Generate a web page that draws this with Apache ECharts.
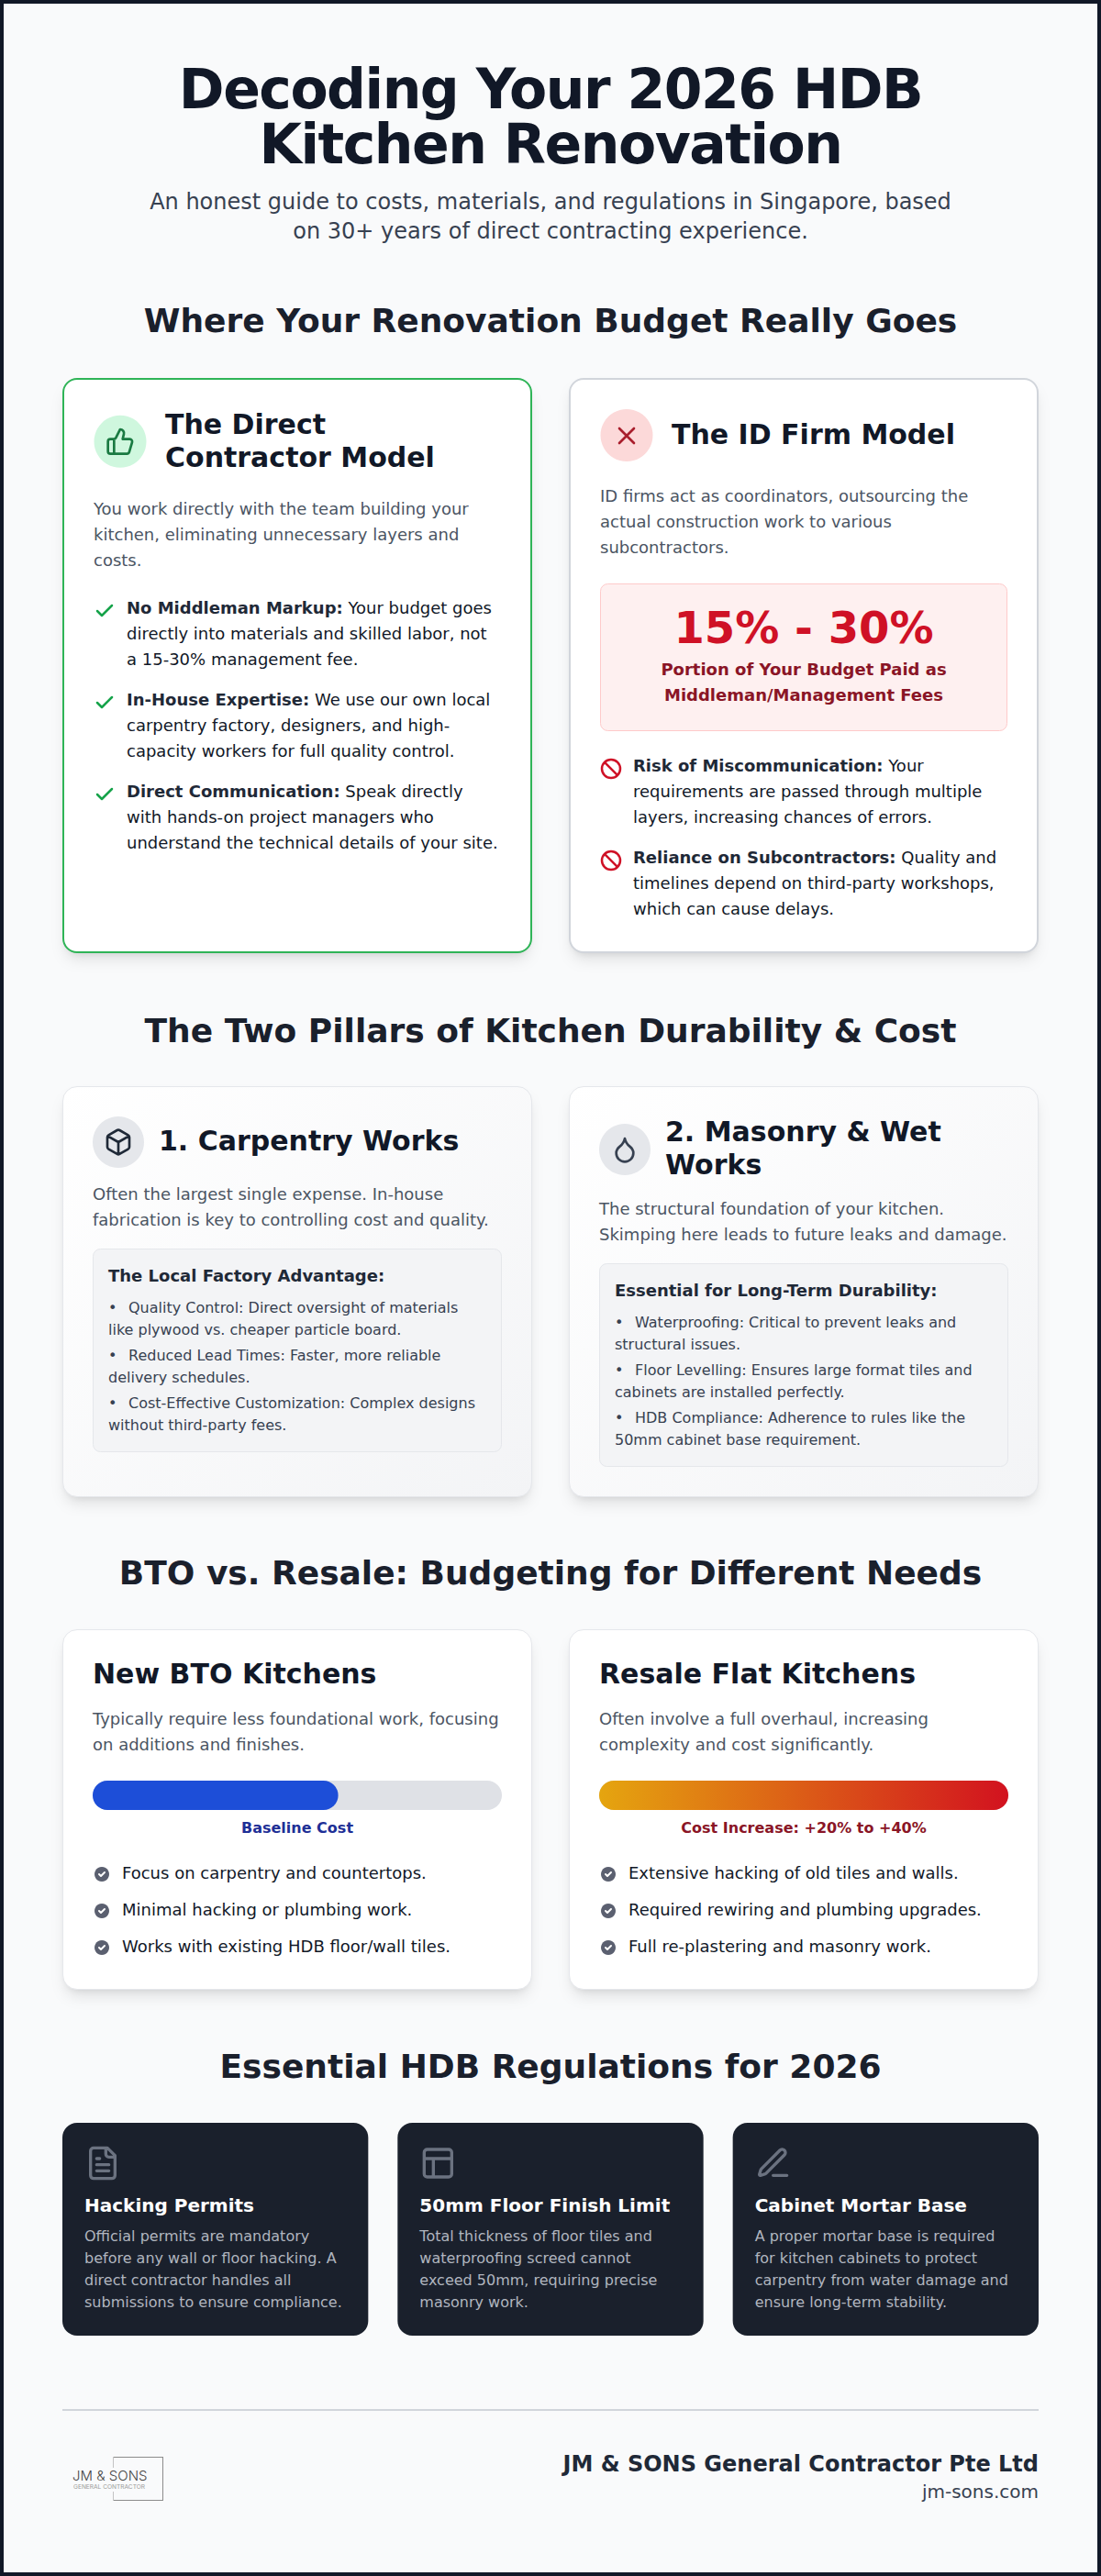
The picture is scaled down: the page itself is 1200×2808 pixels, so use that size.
<!DOCTYPE html>
<html style="height: 100%">
<head>
  <meta charset="utf-8">
  <title>Decoding Your 2026 HDB Kitchen Renovation</title>
  <script src="https://cdn.jsdelivr.net/npm/echarts@6.0.0/dist/echarts.min.js"></script>
  <style>
    /* the page title is set tight */
    svg text[style*="60px"] { letter-spacing: -1.5px; }
  </style>
</head>
<body style="margin:0;height:100%;background:#f9fafb">
  <div id="main" style="width:1200px;height:2808px"></div>
  <script>
    // the only real data marks: the two cost bars (share of bar length, %)
    var costCategories = ['New BTO Kitchens', 'Resale Flat Kitchens'];
    var costValues = [60, 100];
    var costLabels = ['Baseline Cost', 'Cost Increase: +20% to +40%'];

    var heroTitle = ['Decoding Your 2026 HDB', 'Kitchen Renovation'];
    var heroSub = ['An honest guide to costs, materials, and regulations in Singapore, based', 'on 30+ years of direct contracting experience.'];
    var sectionTitles = ['Where Your Renovation Budget Really Goes', 'The Two Pillars of Kitchen Durability & Cost', 'BTO vs. Resale: Budgeting for Different Needs', 'Essential HDB Regulations for 2026'];

    var directTitle = ['The Direct', 'Contractor Model'];
    var directIntro = ['You work directly with the team building your', 'kitchen, eliminating unnecessary layers and', 'costs.'];
    var directPoints = [
      ['{b|No Middleman Markup:} Your budget goes', 'directly into materials and skilled labor, not', 'a 15-30% management fee.'],
      ['{b|In-House Expertise:} We use our own local', 'carpentry factory, designers, and high-', 'capacity workers for full quality control.'],
      ['{b|Direct Communication:} Speak directly', 'with hands-on project managers who', 'understand the technical details of your site.']
    ];
    var firmTitle = 'The ID Firm Model';
    var firmIntro = ['ID firms act as coordinators, outsourcing the', 'actual construction work to various', 'subcontractors.'];
    var feeRange = '15% - 30%';
    var feeNote = ['Portion of Your Budget Paid as', 'Middleman/Management Fees'];
    var firmPoints = [
      ['{b|Risk of Miscommunication:} Your', 'requirements are passed through multiple', 'layers, increasing chances of errors.'],
      ['{b|Reliance on Subcontractors:} Quality and', 'timelines depend on third-party workshops,', 'which can cause delays.']
    ];

    var carpentryTitle = '1. Carpentry Works';
    var carpentryIntro = ['Often the largest single expense. In-house', 'fabrication is key to controlling cost and quality.'];
    var carpentryBoxTitle = 'The Local Factory Advantage:';
    var carpentryBox = [
      ['Quality Control: Direct oversight of materials', 'like plywood vs. cheaper particle board.'],
      ['Reduced Lead Times: Faster, more reliable', 'delivery schedules.'],
      ['Cost-Effective Customization: Complex designs', 'without third-party fees.']
    ];
    var masonryTitle = ['2. Masonry & Wet', 'Works'];
    var masonryIntro = ['The structural foundation of your kitchen.', 'Skimping here leads to future leaks and damage.'];
    var masonryBoxTitle = 'Essential for Long-Term Durability:';
    var masonryBox = [
      ['Waterproofing: Critical to prevent leaks and', 'structural issues.'],
      ['Floor Levelling: Ensures large format tiles and', 'cabinets are installed perfectly.'],
      ['HDB Compliance: Adherence to rules like the', '50mm cabinet base requirement.']
    ];

    var btoIntro = ['Typically require less foundational work, focusing', 'on additions and finishes.'];
    var btoPoints = ['Focus on carpentry and countertops.', 'Minimal hacking or plumbing work.', 'Works with existing HDB floor/wall tiles.'];
    var resaleIntro = ['Often involve a full overhaul, increasing', 'complexity and cost significantly.'];
    var resalePoints = ['Extensive hacking of old tiles and walls.', 'Required rewiring and plumbing upgrades.', 'Full re-plastering and masonry work.'];

    var regTitles = ['Hacking Permits', '50mm Floor Finish Limit', 'Cabinet Mortar Base'];
    var regBodies = [
      ['Official permits are mandatory', 'before any wall or floor hacking. A', 'direct contractor handles all', 'submissions to ensure compliance.'],
      ['Total thickness of floor tiles and', 'waterproofing screed cannot', 'exceed 50mm, requiring precise', 'masonry work.'],
      ['A proper mortar base is required', 'for kitchen cabinets to protect', 'carpentry from water damage and', 'ensure long-term stability.']
    ];
    var footerName = 'JM & SONS General Contractor Pte Ltd';
    var footerSite = 'jm-sons.com';

    // lucide outlines, 24 unit box
    var iconPaths = {
      thumb: 'M7 10v12M15 5.88 14 10h5.83a2 2 0 0 1 1.92 2.56l-2.33 8A2 2 0 0 1 17.5 22H4a2 2 0 0 1-2-2v-8a2 2 0 0 1 2-2h2.76a2 2 0 0 0 1.79-1.11L12 2a3.13 3.13 0 0 1 3 3.88Z',
      cross: 'M18 6 6 18M6 6l12 12',
      check: 'M20 6 9 17l-5-5',
      ban: 'M22 12a10 10 0 1 1-20 0a10 10 0 1 1 20 0ZM4.9 4.9l14.2 14.2',
      box: 'M21 8a2 2 0 0 0-1-1.73l-7-4a2 2 0 0 0-2 0l-7 4A2 2 0 0 0 3 8v8a2 2 0 0 0 1 1.73l7 4a2 2 0 0 0 2 0l7-4A2 2 0 0 0 21 16ZM3.3 7l8.7 5 8.7-5M12 22V12',
      drop: 'M12 22a7 7 0 0 0 7-7c0-2-1-3.9-3-5.5s-3.5-4-4-6.5c-.5 2.5-2 4.9-4 6.5C6 11.1 5 13 5 15a7 7 0 0 0 7 7z',
      file: 'M15 2H6a2 2 0 0 0-2 2v16a2 2 0 0 0 2 2h12a2 2 0 0 0 2-2V7ZM14 2v4a2 2 0 0 0 2 2h4M10 9H8M16 13H8M16 17H8',
      panel: 'M5 3h14a2 2 0 0 1 2 2v14a2 2 0 0 1-2 2H5a2 2 0 0 1-2-2V5a2 2 0 0 1 2-2ZM3 9h18M9 21V9',
      pen: 'M12 20h9M16.376 3.622a1 1 0 0 1 3.002 3.002L7.368 18.635a2 2 0 0 1-.855.506l-2.872.838a.5.5 0 0 1-.62-.62l.838-2.872a2 2 0 0 1 .506-.854z',
      tick: 'M8.4 12l2.4 2.4 4.8-4.8'
    };
    Object.keys(iconPaths).forEach(function (k) {
      echarts.graphic.registerShape('lc_' + k, echarts.graphic.extendPath(iconPaths[k], {}));
    });

    var FONT = '"DejaVu Sans"';
    var RED = '#cf1126', DARK_RED = '#8a1526', INK = '#111827', HEAD = '#1a202c', BODY = '#4b5563', SOFT = '#374151';
    var els = [];

    // text placed by its baseline
    function text(str, x, base, size, color, weight, align) {
      var style = {
        text: str, x: x, y: base - size * 0.346,
        fontFamily: FONT, fontSize: size, fontWeight: weight || 'normal',
        fill: color, align: align || 'left', verticalAlign: 'middle'
      };
      if (str.indexOf('{b|') >= 0) {
        style.rich = { b: { fontFamily: FONT, fontSize: size, fontWeight: 'bold', fill: '#1f2937' } };
      }
      els.push({ type: 'text', silent: true, style: style });
    }
    function lines(arr, x, base, step, size, color, weight, align) {
      arr.forEach(function (s, i) { text(s, x, base + i * step, size, color, weight, align); });
    }
    function icon(name, x, y, size, color, sw) {
      els.push({
        type: 'group', x: x, y: y, scaleX: size / 24, scaleY: size / 24, silent: true,
        children: [{
          type: 'lc_' + name, silent: true,
          style: { fill: 'none', stroke: color, lineWidth: sw || 2, lineCap: 'round', lineJoin: 'round' }
        }]
      });
    }
    function disc(cx, cy, r, fill) {
      els.push({ type: 'circle', silent: true, shape: { cx: cx, cy: cy, r: r }, style: { fill: fill } });
    }
    function card(x, y, w, h, fill, border, bw) {
      // tailwind shadow-lg, negative spread done by insetting the caster
      els.push({ type: 'rect', silent: true, shape: { x: x + 3, y: y + 3, width: w - 6, height: h - 6, r: 14 },
        style: { fill: '#fff', shadowBlur: 15, shadowOffsetY: 10, shadowColor: 'rgba(0,0,0,0.1)' } });
      els.push({ type: 'rect', silent: true, shape: { x: x + 4, y: y + 4, width: w - 8, height: h - 8, r: 14 },
        style: { fill: '#fff', shadowBlur: 6, shadowOffsetY: 4, shadowColor: 'rgba(0,0,0,0.1)' } });
      els.push({ type: 'rect', silent: true, shape: { x: x + bw / 2, y: y + bw / 2, width: w - bw, height: h - bw, r: 16 - bw / 2 },
        style: { fill: fill, stroke: border, lineWidth: bw } });
    }
    function noteBox(x, y, w, h, fill, border) {
      els.push({ type: 'rect', silent: true, shape: { x: x + 0.5, y: y + 0.5, width: w - 1, height: h - 1, r: 8 },
        style: { fill: fill, stroke: border, lineWidth: 1 } });
    }
    function hline(x1, x2, y, color, w) {
      els.push({ type: 'line', silent: true, shape: { x1: x1, y1: y, x2: x2, y2: y }, style: { stroke: color, lineWidth: w } });
    }
    function vline(x, y1, y2, color, w) {
      els.push({ type: 'line', silent: true, shape: { x1: x, y1: y1, x2: x, y2: y2 }, style: { stroke: color, lineWidth: w } });
    }

    // page frame
    els.push({ type: 'rect', silent: true, shape: { x: 2, y: 2, width: 1196, height: 2804 }, style: { fill: '#f9fafb', stroke: '#111827', lineWidth: 4 } });

    // header, one text block so the tight leading stays a single element
    els.push({ type: 'text', silent: true, style: {
      text: heroTitle.join('\n'), x: 600, y: 118 - 60 * 0.346 + 30, lineHeight: 60,
      fontFamily: FONT, fontSize: 60, fontWeight: 'bold', fill: INK, align: 'center', verticalAlign: 'middle'
    } });
    lines(heroSub, 600, 228, 32, 24, SOFT, 'normal', 'center');
    text(sectionTitles[0], 600, 362, 36, HEAD, 'bold', 'center');

    // direct contractor card
    card(68, 412, 512, 627, '#ffffff', '#2fb457', 2);
    disc(131, 481.3, 28.5, '#cff7de');
    icon('thumb', 115, 465.3, 32, '#1a7a42');
    lines(directTitle, 180, 473, 36, 30, INK, 'bold');
    lines(directIntro, 102, 561, 28, 18, BODY);
    directPoints.forEach(function (p, i) {
      icon('check', 102, 654 + i * 100, 24, '#16a34a', 2.5);
      lines(p, 138, 669 + i * 100, 28, 18, INK);
    });

    // ID firm card
    card(620, 412, 512, 627, '#ffffff', '#d1d5db', 2);
    disc(683, 474.5, 28.5, '#fcd9d9');
    icon('cross', 667, 459, 32, '#a91e2c');
    text(firmTitle, 732, 484, 30, INK, 'bold');
    lines(firmIntro, 654, 546.5, 28, 18, BODY);
    noteBox(654, 636, 444, 161, '#fef0f0', '#fecaca');
    text(feeRange, 876, 701, 48, RED, 'bold', 'center');
    lines(feeNote, 876, 736, 28, 18, DARK_RED, 'bold', 'center');
    firmPoints.forEach(function (p, i) {
      icon('ban', 654, 826 + i * 100, 24, RED, 2.5);
      lines(p, 690, 841 + i * 100, 28, 18, INK);
    });

    // two pillars
    text(sectionTitles[1], 600, 1135.5, 36, HEAD, 'bold', 'center');
    var pillarFill = { type: 'linear', x: 0, y: 0, x2: 1, y2: 1, colorStops: [{ offset: 0, color: '#ffffff' }, { offset: 1, color: '#f3f4f6' }] };
    function pillarList(items, x, base) {
      items.forEach(function (p, i) {
        text('\u2022', x, base + i * 52, 16, SOFT);
        text(p[0], x + 22, base + i * 52, 16, SOFT);
        text(p[1], x, base + 24 + i * 52, 16, SOFT);
      });
    }
    card(68, 1184, 512, 448, pillarFill, '#e5e7eb', 1);
    disc(129, 1245, 28, '#e5e7eb');
    icon('box', 113, 1229, 32, '#1f2937');
    text(carpentryTitle, 173, 1254, 30, INK, 'bold');
    lines(carpentryIntro, 101, 1308, 28, 18, BODY);
    noteBox(101, 1361, 446, 222, '#f3f4f6', '#e5e7eb');
    text(carpentryBoxTitle, 118, 1397, 18, '#1f2937', 'bold');
    pillarList(carpentryBox, 118, 1431);

    card(620, 1184, 512, 448, pillarFill, '#e5e7eb', 1);
    disc(681, 1253, 28, '#e5e7eb');
    icon('drop', 665, 1237, 32, '#374151');
    lines(masonryTitle, 725, 1244, 36, 30, INK, 'bold');
    lines(masonryIntro, 653, 1324, 28, 18, BODY);
    noteBox(653, 1377, 446, 222, '#f3f4f6', '#e5e7eb');
    text(masonryBoxTitle, 670, 1413, 18, '#1f2937', 'bold');
    pillarList(masonryBox, 670, 1447);

    // BTO vs resale, the bars themselves are series below
    text(sectionTitles[2], 600, 1726.7, 36, HEAD, 'bold', 'center');
    function budgetCard(x, idx, intro, points) {
      card(x, 1776, 512, 393, '#ffffff', '#e5e7eb', 1);
      text(costCategories[idx], x + 33, 1835, 30, INK, 'bold');
      lines(intro, x + 33, 1880, 28, 18, BODY);
      text(costLabels[idx], x + 256, 1998, 16, idx ? DARK_RED : '#1e2f96', 'bold', 'center');
      points.forEach(function (p, i) {
        disc(x + 43, 2043 + i * 40, 8, '#5b6070');
        icon('tick', x + 33, 2033 + i * 40, 20, '#ffffff', 2.4);
        text(p, x + 65, 2048 + i * 40, 18, INK);
      });
    }
    budgetCard(68, 0, btoIntro, btoPoints);
    budgetCard(620, 1, resaleIntro, resalePoints);

    // regulations
    text(sectionTitles[3], 600, 2265, 36, HEAD, 'bold', 'center');
    ['file', 'panel', 'pen'].forEach(function (name, i) {
      var x = 68 + i * 365.33;
      els.push({ type: 'rect', silent: true, shape: { x: x, y: 2314, width: 333.33, height: 232, r: 16 }, style: { fill: '#1a202c' } });
      icon(name, x + 24, 2338, 40, '#6b7280');
      text(regTitles[i], x + 24, 2411, 20, '#ffffff', 'bold');
      lines(regBodies[i], x + 24, 2443, 24, 16, '#b0b5bf');
    });

    // footer
    hline(68, 1132, 2627, '#d1d5db', 2);
    text(footerName, 1132, 2694, 24, '#1f2937', 'bold', 'right');
    text(footerSite, 1132, 2723, 20, SOFT, 'normal', 'right');

    // logo
    hline(123, 177.5, 2678.5, '#8c8c8c', 1);
    hline(123, 177.5, 2725.5, '#8c8c8c', 1);
    vline(177.5, 2678, 2726, '#8c8c8c', 1);
    vline(123.5, 2678, 2690, '#c4c4c4', 1);
    vline(123.5, 2716, 2726, '#c4c4c4', 1);
    els.push({ type: 'text', silent: true, style: { text: 'JM & SONS', x: 79, y: 2698, fontFamily: 'Inter', fontWeight: 300, fontSize: 15, fill: '#444444', verticalAlign: 'middle' } });
    els.push({ type: 'text', silent: true, style: { text: 'GENERAL CONTRACTOR', x: 80, y: 2711, fontFamily: 'Inter', fontSize: 6.6, fill: '#9a9a9a', verticalAlign: 'middle' } });

    var chart = echarts.init(document.getElementById('main'), null, { renderer: 'svg' });
    function barGrid(left) { return { left: left, top: 1941, width: 446, height: 32, containLabel: false }; }
    var barOpt = {
      animation: false,
      backgroundColor: '#f9fafb',
      tooltip: { show: false },
      grid: [barGrid(101), barGrid(653)],
      xAxis: [0, 1].map(function (i) { return { type: 'value', gridIndex: i, min: 0, max: 100, show: false }; }),
      yAxis: [0, 1].map(function (i) { return { type: 'category', gridIndex: i, data: [costCategories[i]], show: false }; }),
      graphic: { elements: els },
      series: [0, 1].map(function (i) {
        return {
          type: 'bar', xAxisIndex: i, yAxisIndex: i, barWidth: 32, silent: true,
          data: [costValues[i]],
          showBackground: true,
          backgroundStyle: { color: '#dfe1e6', borderRadius: 16 },
          itemStyle: {
            borderRadius: 16,
            color: i === 0 ? '#1d4ed8' : new echarts.graphic.LinearGradient(0, 0, 1, 0, [{ offset: 0, color: '#e5a50f' }, { offset: 1, color: '#d2121f' }])
          }
        };
      })
    };
    chart.setOption(barOpt);
  </script>
</body>
</html>
